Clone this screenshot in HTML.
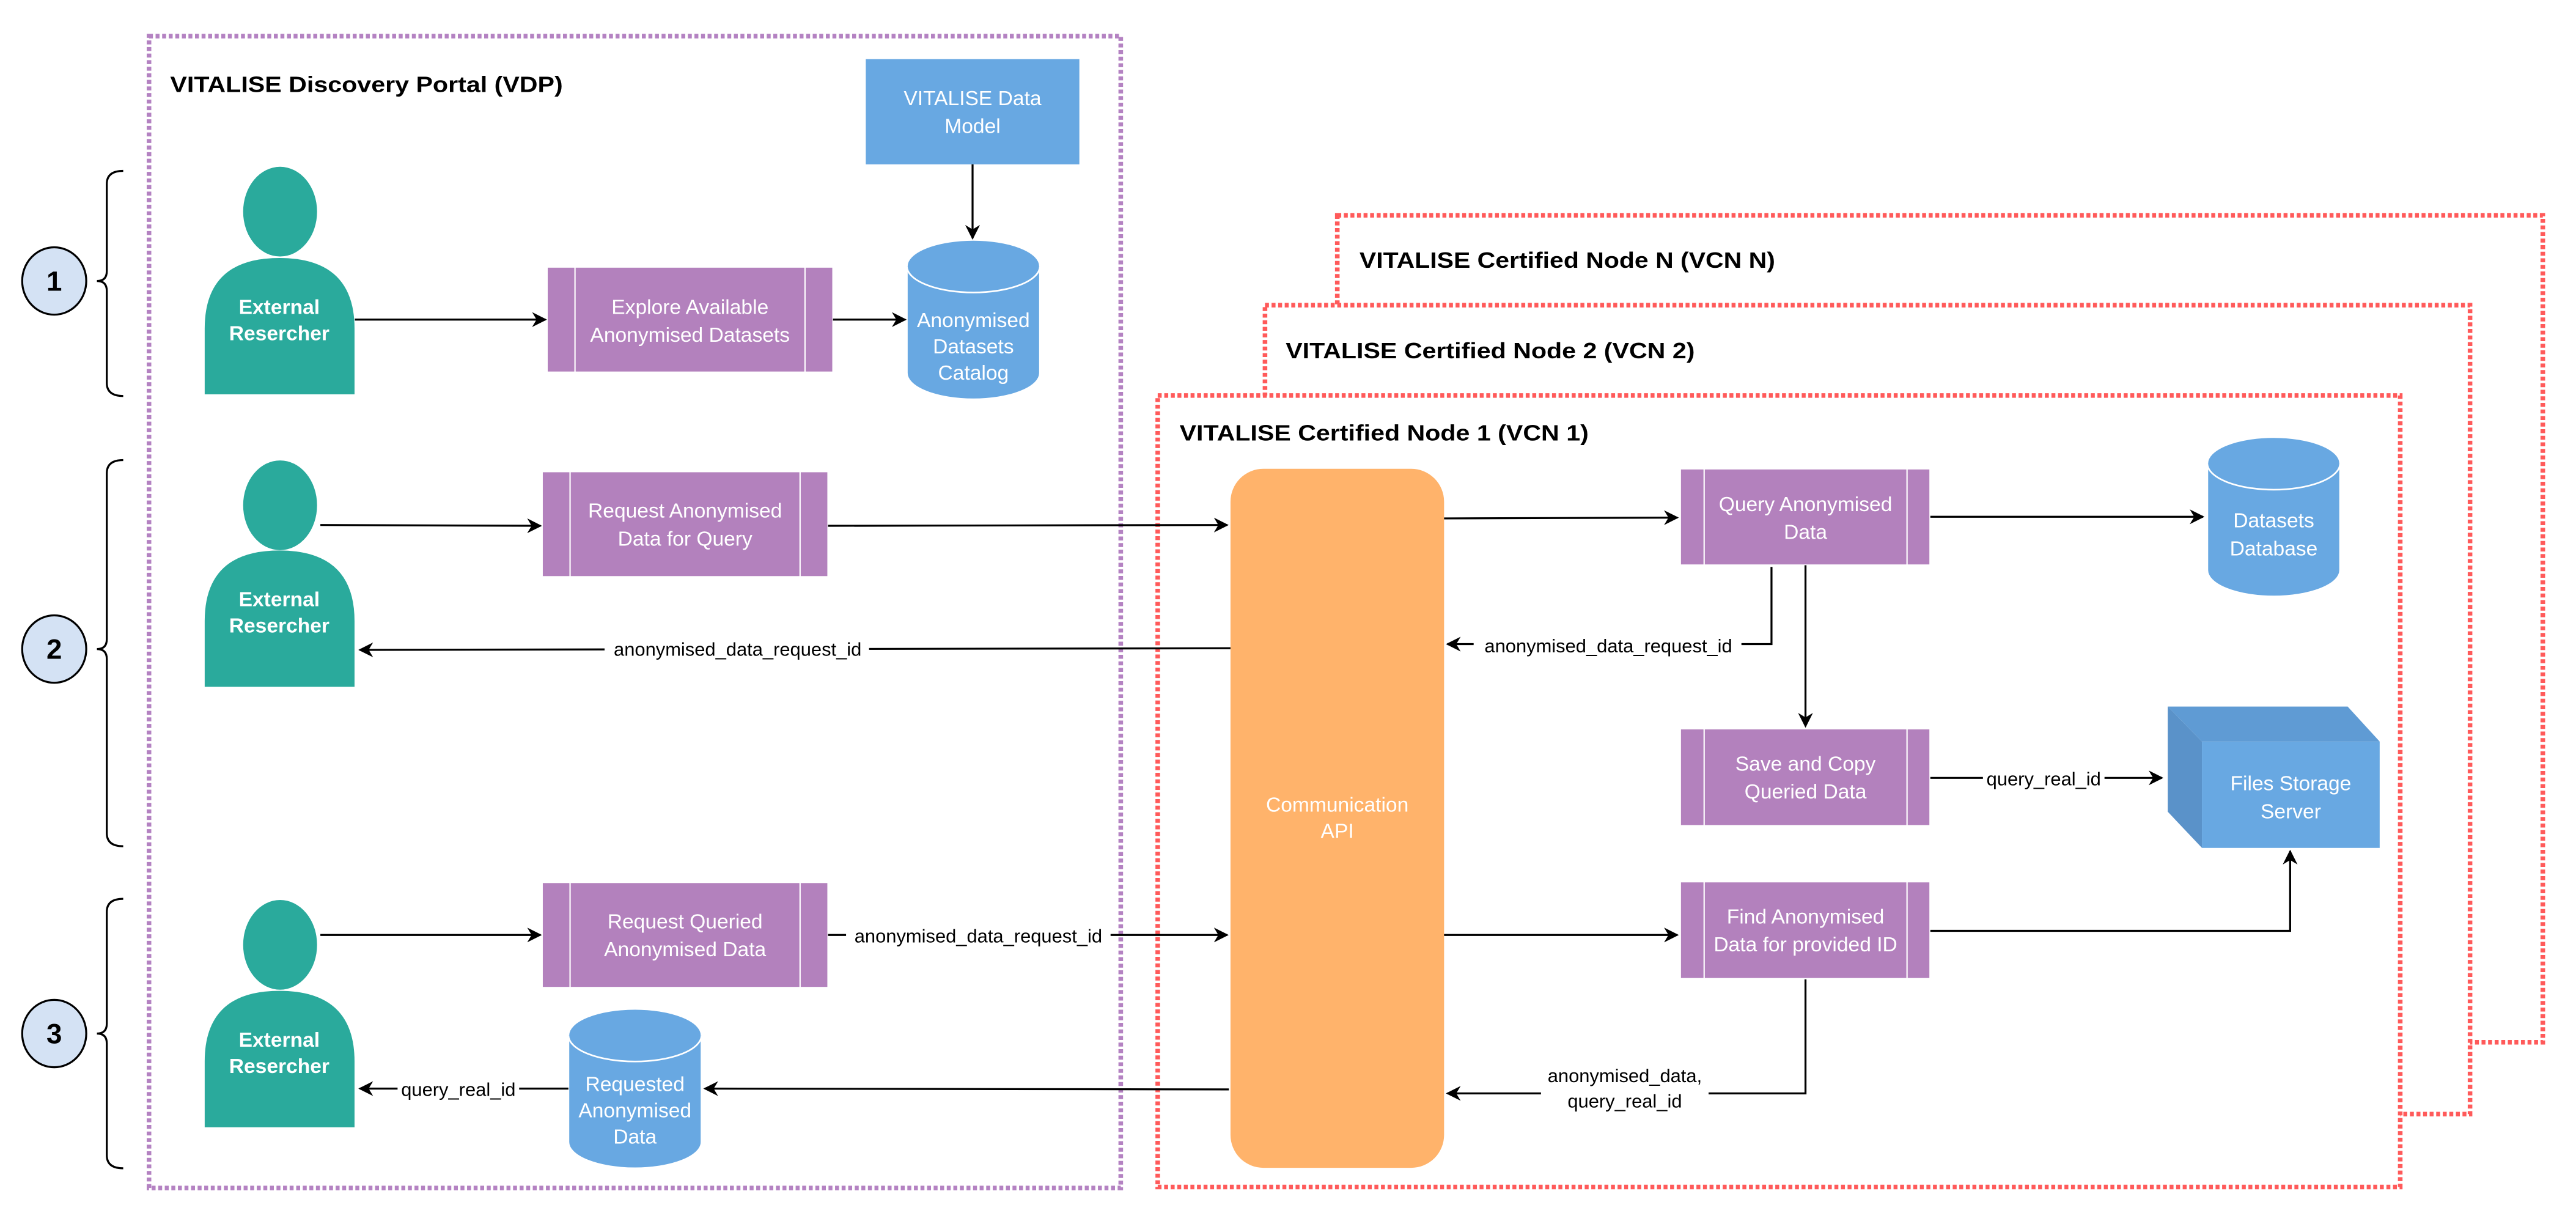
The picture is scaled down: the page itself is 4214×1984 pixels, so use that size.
<!DOCTYPE html>
<html><head><meta charset="utf-8"><style>html,body{margin:0;padding:0;background:#fff}svg{display:block}</style></head>
<body>
<svg xmlns="http://www.w3.org/2000/svg" width="4214" height="1984" viewBox="0 0 1568 738.2" preserveAspectRatio="none" font-family="'Liberation Sans', sans-serif">
<defs>
<marker id="a" viewBox="0 0 10 10" refX="9" refY="5" markerWidth="9" markerHeight="9" markerUnits="userSpaceOnUse" orient="auto">
<path d="M0,0 L10,5 L0,10 L3,5 Z" fill="#000"/></marker>
</defs>
<rect width="1568" height="738.2" fill="#fff"/>

<rect x="814" y="131" width="733.8" height="503.3" fill="#fff" stroke="#ff5a5a" stroke-width="2.8" stroke-dasharray="2.4 1.6"/>
<text x="827.5" y="163" font-size="13.5" font-weight="bold" textLength="253" lengthAdjust="spacingAndGlyphs">VITALISE Certified Node N (VCN N)</text>
<rect x="770" y="185.7" width="733.5" height="492.3" fill="#fff" stroke="#ff5a5a" stroke-width="2.8" stroke-dasharray="2.4 1.6"/>
<text x="782.6" y="218" font-size="13.5" font-weight="bold" textLength="249" lengthAdjust="spacingAndGlyphs">VITALISE Certified Node 2 (VCN 2)</text>
<rect x="704.7" y="240.7" width="756.3" height="481.7" fill="#fff" stroke="#ff5a5a" stroke-width="2.8" stroke-dasharray="2.4 1.6"/>
<text x="718" y="268" font-size="13.5" font-weight="bold" textLength="249" lengthAdjust="spacingAndGlyphs">VITALISE Certified Node 1 (VCN 1)</text>

<rect x="90.7" y="22" width="591.5" height="701" fill="none" stroke="#b482c2" stroke-width="2.8" stroke-dasharray="2.4 1.6"/>
<text x="103.6" y="56" font-size="13.5" font-weight="bold" textLength="239" lengthAdjust="spacingAndGlyphs">VITALISE Discovery Portal (VDP)</text>

<g fill="none" stroke="#000" stroke-width="1.2">
<path d="M75,104 Q65,104 65,112 L65,165 Q65,171 59,171 Q65,171 65,177 L65,233 Q65,241 75,241"/>
<path d="M75,280 Q65,280 65,288 L65,389 Q65,395 59,395 Q65,395 65,401 L65,507 Q65,515 75,515"/>
<path d="M75,547 Q65,547 65,555 L65,623 Q65,629 59,629 Q65,629 65,635 L65,703 Q65,711 75,711"/>
</g>
<g fill="#d4e2f4" stroke="#000" stroke-width="1.2">
<ellipse cx="33" cy="171" rx="19.5" ry="20.5"/>
<ellipse cx="33" cy="395" rx="19.5" ry="20.5"/>
<ellipse cx="33" cy="629" rx="19.5" ry="20.5"/>
</g>
<g font-size="17" font-weight="bold" text-anchor="middle">
<text x="33" y="177">1</text><text x="33" y="401">2</text><text x="33" y="635">3</text>
</g>

<g fill="#2aaa9c">
<ellipse cx="170.5" cy="128.8" rx="22.5" ry="27.3"/>
<path d="M124.6,240 L124.6,200 Q124.6,157 170,157 Q215.8,157 215.8,200 L215.8,240 Z"/>
<ellipse cx="170.5" cy="307.5" rx="22.5" ry="27.3"/>
<path d="M124.6,418 L124.6,378 Q124.6,335 170,335 Q215.8,335 215.8,378 L215.8,418 Z"/>
<ellipse cx="170.5" cy="575" rx="22.5" ry="27.3"/>
<path d="M124.6,686 L124.6,646 Q124.6,603 170,603 Q215.8,603 215.8,646 L215.8,686 Z"/>
</g>
<g fill="#fff" font-size="12.5" font-weight="bold" text-anchor="middle">
<text x="170" y="191">External</text><text x="170" y="207">Resercher</text>
<text x="170" y="369">External</text><text x="170" y="385">Resercher</text>
<text x="170" y="637">External</text><text x="170" y="653">Resercher</text>
</g>

<rect x="527" y="36" width="130" height="64" fill="#68a8e2"/>
<g fill="#fff" font-size="12.5" text-anchor="middle"><text x="592" y="64">VITALISE Data</text><text x="592" y="81">Model</text></g>

<g fill="#b381bd" stroke="#fff" stroke-width="0.8">
<rect x="333" y="162.5" width="174" height="64"/><line x1="350" y1="162.5" x2="350" y2="226.5"/><line x1="490" y1="162.5" x2="490" y2="226.5"/>
<rect x="330" y="287" width="174" height="64"/><line x1="347" y1="287" x2="347" y2="351"/><line x1="487" y1="287" x2="487" y2="351"/>
<rect x="330" y="537" width="174" height="64"/><line x1="347" y1="537" x2="347" y2="601"/><line x1="487" y1="537" x2="487" y2="601"/>
<rect x="1022.8" y="285.3" width="152" height="58.6"/><line x1="1037.3" y1="285.3" x2="1037.3" y2="343.9"/><line x1="1160.8" y1="285.3" x2="1160.8" y2="343.9"/>
<rect x="1022.8" y="443.5" width="152" height="59"/><line x1="1037.3" y1="443.5" x2="1037.3" y2="502.5"/><line x1="1160.8" y1="443.5" x2="1160.8" y2="502.5"/>
<rect x="1022.8" y="536.6" width="152" height="59"/><line x1="1037.3" y1="536.6" x2="1037.3" y2="595.6"/><line x1="1160.8" y1="536.6" x2="1160.8" y2="595.6"/>
</g>
<g fill="#fff" font-size="12.5" text-anchor="middle">
<text x="420" y="191">Explore Available</text><text x="420" y="208">Anonymised Datasets</text>
<text x="417" y="315">Request Anonymised</text><text x="417" y="332">Data for Query</text>
<text x="417" y="565">Request Queried</text><text x="417" y="582">Anonymised Data</text>
<text x="1099" y="311">Query Anonymised</text><text x="1099" y="328">Data</text>
<text x="1099" y="469">Save and Copy</text><text x="1099" y="486">Queried Data</text>
<text x="1099" y="562">Find Anonymised</text><text x="1099" y="579">Data for provided ID</text>
</g>

<g fill="#68a8e2" stroke="#fff" stroke-width="1">
<path d="M552,162 L552,227 A40.5,16 0 0 0 633,227 L633,162 A40.5,16 0 0 0 552,162 Z"/>
<path d="M552,162 A40.5,16 0 0 0 633,162"/>
<path d="M1343.6,282 L1343.6,347 A40.4,16 0 0 0 1424.4,347 L1424.4,282 A40.4,16 0 0 0 1343.6,282 Z"/>
<path d="M1343.6,282 A40.4,16 0 0 0 1424.4,282"/>
<path d="M346,630 L346,695 A40.5,16 0 0 0 427,695 L427,630 A40.5,16 0 0 0 346,630 Z"/>
<path d="M346,630 A40.5,16 0 0 0 427,630"/>
</g>
<g fill="#fff" font-size="12.5" text-anchor="middle">
<text x="592.5" y="199">Anonymised</text><text x="592.5" y="215">Datasets</text><text x="592.5" y="231">Catalog</text>
<text x="1384" y="321">Datasets</text><text x="1384" y="338">Database</text>
<text x="386.5" y="664">Requested</text><text x="386.5" y="680">Anonymised</text><text x="386.5" y="696">Data</text>
</g>

<path d="M1319.5,430 L1429,430 L1448.5,451.3 L1340.3,451.3 Z" fill="#5f9bd4"/>
<path d="M1319.5,430 L1340.3,451.3 L1340.3,516 L1319.5,494 Z" fill="#5a92c9"/>
<rect x="1340.3" y="451.3" width="108.2" height="64.7" fill="#68a8e2"/>
<g fill="#fff" font-size="12.5" text-anchor="middle"><text x="1394.4" y="481">Files Storage</text><text x="1394.4" y="498">Server</text></g>

<rect x="749" y="285.3" width="130" height="425.4" rx="20" fill="#ffb36b"/>
<g fill="#fff" font-size="12.5" text-anchor="middle"><text x="814" y="494">Communication</text><text x="814" y="510">API</text></g>

<g fill="none" stroke="#000" stroke-width="1.2" marker-end="url(#a)">
<path d="M216,194.5 L332,194.5"/>
<path d="M507,194.5 L551,194.5"/>
<path d="M592,100 L592,145"/>
<path d="M195,319.5 L329,320"/>
<path d="M504,320 L747,319.5"/>
<path d="M749,394.5 L219,395.5"/>
<path d="M195,569 L329,569"/>
<path d="M504,569 L747,569"/>
<path d="M748,663 L429,662.5"/>
<path d="M346,662.5 L219,662.5"/>
<path d="M879,315.5 L1021,315"/>
<path d="M1175,314.5 L1341,314.5"/>
<path d="M1099,344 L1099,442"/>
<path d="M1078.3,345 L1078.3,392 L881,392"/>
<path d="M1175,473.4 L1316,473.4"/>
<path d="M879,569 L1021,569"/>
<path d="M1175,566.5 L1394,566.5 L1394,518"/>
<path d="M1099,596 L1099,665.4 L881,665.4"/>
</g>

<g font-size="11.5" text-anchor="middle">
<rect x="368" y="387" width="161" height="15" fill="#fff"/><text x="449" y="399">anonymised_data_request_id</text>
<rect x="515" y="562" width="161" height="15" fill="#fff"/><text x="595.5" y="573.5">anonymised_data_request_id</text>
<rect x="242" y="655" width="74" height="15" fill="#fff"/><text x="279" y="667">query_real_id</text>
<rect x="897" y="385" width="163" height="15" fill="#fff"/><text x="979" y="397">anonymised_data_request_id</text>
<rect x="1207" y="466" width="74" height="15" fill="#fff"/><text x="1244" y="478">query_real_id</text>
<rect x="938" y="647" width="102" height="30" fill="#fff"/><text x="989" y="658.5">anonymised_data,</text><text x="989" y="674">query_real_id</text>
</g>
</svg>
</body></html>
